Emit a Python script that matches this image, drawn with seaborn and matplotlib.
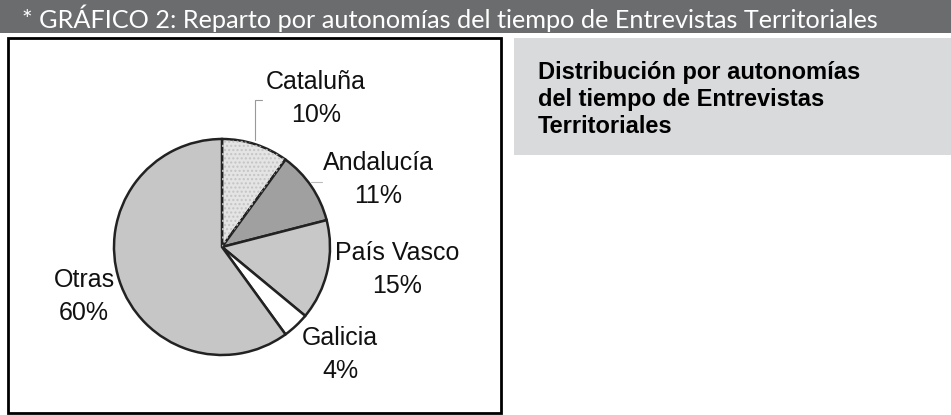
import matplotlib
matplotlib.use("Agg")
import matplotlib.pyplot as plt
import seaborn as sns
from matplotlib.patches import Rectangle

# datos del gráfico
autonomias = ["Cataluña", "Andalucía", "País Vasco", "Galicia", "Otras"]
porcentajes = [10, 11, 15, 4, 60]
colores = ["#e4e4e4", "#a0a0a0", "#c8c8c8", "#ffffff", "#c6c6c6"]

titulo = "* GRÁFICO 2: Reparto por autonomías del tiempo de Entrevistas Territoriales"
lineas_caja = ["Distribución por autonomías", "del tiempo de Entrevistas", "Territoriales"]

sns.set_theme(style="white")
plt.rcParams["font.family"] = ["Liberation Sans", "DejaVu Sans"]

W, H = 951, 415
fig = plt.figure(figsize=(W / 100, H / 100), dpi=100)

# capa de fondo en píxeles
bg = fig.add_axes([0, 0, 1, 1])
bg.set_xlim(0, W)
bg.set_ylim(H, 0)
bg.axis("off")
bg.add_patch(Rectangle((0, 0), W, 33, color="#6b6c6e", lw=0))
bg.text(22, 18, titulo, color="white", fontsize=18.2, family="Lato", va="center", ha="left")
bg.add_patch(Rectangle((8, 38), 493, 375, fill=False, ec="black", lw=2))
bg.add_patch(Rectangle((514, 38), W - 514, 117, color="#d9dadc", lw=0))
for i, linea in enumerate(lineas_caja):
    bg.text(538, 79 + 27 * i, linea, fontsize=17, fontweight="bold", color="black",
            va="baseline", ha="left")

# tarta
cx, cy, r = 222, 247, 108
ax = fig.add_axes([(cx - r) / W, (H - cy - r) / H, 2 * r / W, 2 * r / H])
ax.pie(porcentajes, colors=colores, startangle=90, counterclock=False,
       wedgeprops=dict(edgecolor="#222222", linewidth=1.8))
# textura punteada en Cataluña
hatches = ["....", "", "", "", ""]
wedges, _ = ax.pie(porcentajes, colors=["none"] * 5, startangle=90, counterclock=False,
                   wedgeprops=dict(edgecolor="#c4c4c4", linewidth=0))
for w, h in zip(wedges, hatches):
    w.set_hatch(h)
ax.set_xlim(-1, 1)
ax.set_ylim(-1, 1)
ax.axis("off")

# etiquetas
pos_etiquetas = [(316, 82), (378, 163), (397, 253), (340, 338), (84, 280)]
for nombre, p, (x, y) in zip(autonomias, porcentajes, pos_etiquetas):
    bg.text(x, y, nombre, fontsize=18, ha="center", va="center", color="#111111")
    bg.text(x, y + 32.5, f"{p}%", fontsize=18, ha="center", va="center", color="#111111")

# líneas guía
bg.plot([255, 255, 262], [140, 100, 100], color="#999999", lw=0.8)
bg.plot([311, 322], [182, 182], color="#bbbbbb", lw=0.8)

fig.savefig("out.png", dpi=100)
